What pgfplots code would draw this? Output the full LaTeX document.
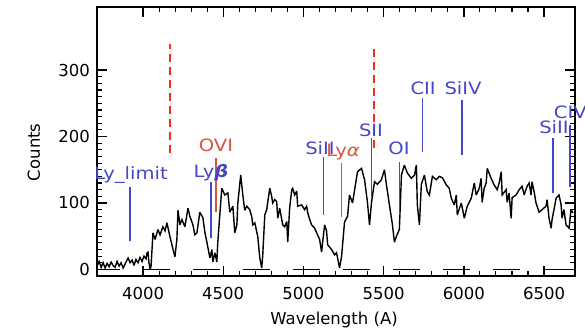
\documentclass[border=0pt]{standalone}
\usepackage{pgfplots}
\pgfplotsset{compat=1.18}
\usepackage{fontspec}
\setmainfont{DejaVu Sans}
\definecolor{lblue}{RGB}{70,70,200}
\definecolor{lred}{RGB}{215,85,60}
\definecolor{dred}{RGB}{245,45,25}
\pgfplotstableread{
x y
3714 5
3726 12
3739 3
3751 10
3764 2
3776 9
3789 4
3801 11
3813 6
3826 3
3838 12
3851 5
3863 10
3876 2
3888 8
3900 14
3907 17
3919 10
3932 14
3944 6
3956 15
3969 10
3981 18
3994 12
4006 20
4019 16
4025 25
4031 26
4037 10
4044 0
4050 5
4062 55
4075 45
4093 60
4106 52
4124 64
4137 58
4149 70
4168 49
4187 30
4199 19
4211 45
4218 89
4230 67
4243 75
4261 64
4280 92
4292 80
4311 67
4323 52
4336 55
4354 86
4373 78
4386 55
4398 41
4417 17
4429 30
4435 11
4448 25
4460 11
4466 41
4491 122
4510 112
4529 115
4541 86
4560 95
4572 55
4585 67
4591 100
4609 142
4622 112
4634 89
4647 95
4665 90
4678 79
4684 67
4697 70
4709 56
4715 50
4728 17
4740 2
4746 20
4759 82
4771 90
4790 122
4802 110
4808 100
4821 105
4833 102
4840 77
4852 92
4871 67
4883 64
4896 72
4902 41
4914 92
4927 120
4933 122
4945 112
4958 118
4964 95
4989 97
5007 90
5020 95
5026 86
5039 75
5051 67
5070 62
5088 52
5101 45
5113 26
5132 67
5144 58
5151 37
5175 30
5194 22
5206 25
5213 17
5225 2
5238 20
5256 71
5275 80
5287 112
5306 100
5318 118
5337 147
5362 152
5381 135
5399 101
5412 67
5424 100
5443 132
5461 128
5486 135
5505 150
5517 128
5536 97
5555 67
5567 41
5580 50
5598 60
5611 142
5629 157
5648 145
5673 137
5692 142
5704 157
5710 97
5723 67
5735 128
5754 142
5772 117
5785 112
5804 140
5828 135
5847 140
5866 138
5891 127
5909 122
5922 107
5940 97
5953 112
5959 82
5984 100
6003 77
6021 95
6046 107
6065 130
6077 112
6096 122
6108 137
6114 101
6127 122
6139 130
6146 152
6170 137
6189 127
6208 120
6220 130
6233 147
6239 112
6264 120
6270 101
6282 115
6295 77
6301 108
6326 112
6345 120
6363 125
6376 112
6394 125
6407 130
6419 112
6425 132
6438 117
6450 100
6469 86
6488 90
6512 95
6519 105
6531 77
6544 62
6550 75
6562 90
6575 107
6593 112
6606 98
6612 77
6624 90
6637 67
6656 62
6668 90
6680 85
}\spec
\begin{document}
\begin{tikzpicture}
\begin{axis}[
 at={(0,0)}, anchor=south west,
 scale only axis, width=478pt, height=269pt,
 xmin=3713, xmax=6693, ymin=-10, ymax=395,
 xtick={4000,4500,...,6500}, ytick={0,100,200,300},
 minor x tick num=4, minor y tick num=9,
 tick align=inside, major tick length=10pt, minor tick length=5pt,
 axis line style={line width=1.4pt},
 major tick style={black, line width=1.3pt},
 minor tick style={black, line width=1.1pt},
 ticklabel style={font=\fontsize{16.5}{18}\selectfont},
 xticklabel style={yshift=-8pt},
 yticklabel style={xshift=-3.5pt},
 /pgf/number format/assume math mode=true,
 /pgf/number format/1000 sep={},
 xlabel={Wavelength (A)}, ylabel={Counts},
 label style={font=\fontsize{16.5}{18}\selectfont},
 xlabel style={at={(axis description cs:0.496,-0.164)}, anchor=center},
 ylabel style={at={(axis description cs:-0.132,0.46)}, anchor=center},
 clip=false,
]
\addplot[black, line width=1.4pt, dash pattern=on 27pt off 23pt, dash phase=4pt] coordinates {(3713,0) (6693,0)};
\addplot[black, line width=1.4pt, line join=miter, miter limit=3] table {\spec};
% marker lines
\addplot[lblue, line width=1.5pt] coordinates {(3919,43) (3919,124)};
\addplot[lblue, line width=1.5pt] coordinates {(4423,47) (4423,132)};
\addplot[lred, line width=1.5pt] coordinates {(4454,86) (4454,168)};
\addplot[lblue, line width=1.5pt] coordinates {(5126,82) (5126,169)};
\addplot[lred, line width=1.5pt] coordinates {(5238,79) (5238,160)};
\addplot[lblue, line width=1.5pt] coordinates {(5424,109) (5424,198)};
\addplot[lblue, line width=1.5pt] coordinates {(5598,82) (5598,162)};
\addplot[lblue, line width=1.5pt] coordinates {(5741,177) (5741,258)};
\addplot[lblue, line width=1.5pt] coordinates {(5990,172) (5990,255)};
\addplot[lblue, line width=1.5pt] coordinates {(6556,115) (6556,198)};
\addplot[lblue, line width=1.5pt] coordinates {(6662,124) (6662,217)};
% red dashed
\addplot[dred, line width=1.6pt, dash pattern=on 8pt off 5pt] coordinates {(4168,175) (4168,340)};
\addplot[dred, line width=1.6pt, dash pattern=on 8pt off 5pt] coordinates {(5440,182) (5440,334)};
% labels
\begin{scope}[every node/.style={font=\fontsize{17}{19}\selectfont, xscale=1.15, inner sep=0pt}]
\node[lblue] at (axis cs:3925,142) {Ly\_limit};
\node[lblue] at (axis cs:4424,145) {Ly\textbf{\textit{β}}};
\node[lred] at (axis cs:4455,187) {OVI};
\node[lblue] at (axis cs:5103,183) {SiII};
\node[lred] at (axis cs:5247,177) {Ly\textit{α}};
\node[lblue] at (axis cs:5421,210) {SII};
\node[lblue] at (axis cs:5596,182) {OI};
\node[lblue] at (axis cs:5746,273) {CII};
\node[lblue] at (axis cs:5995,273) {SiIV};
\node[lblue] at (axis cs:6562,214) {SiII};
\node[lblue, anchor=west] at (axis cs:6560,236) {CIV};
\end{scope}
\end{axis}
\pgfresetboundingbox
\useasboundingbox (-97pt,-57pt) rectangle (488pt,276pt);
\end{tikzpicture}
\end{document}
